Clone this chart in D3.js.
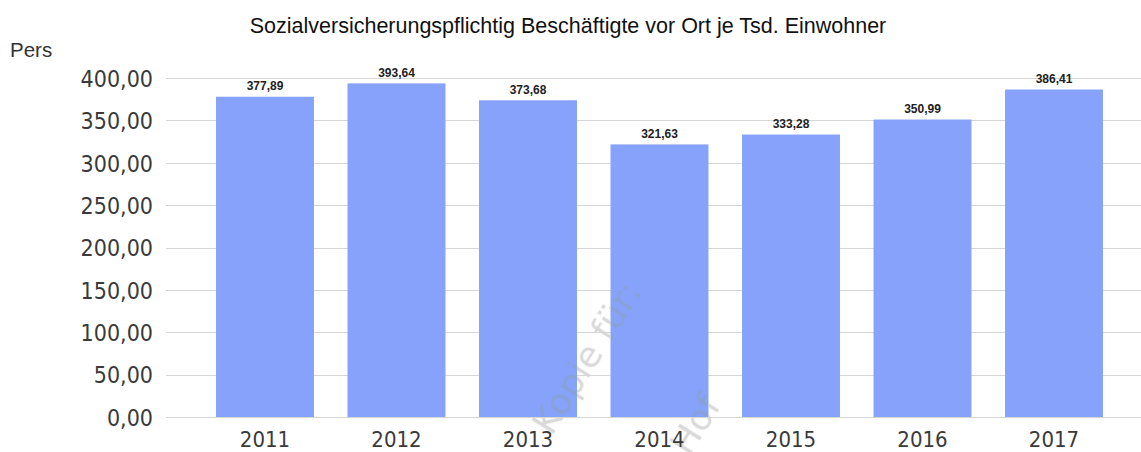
<!DOCTYPE html>
<html>
<head>
<meta charset="utf-8">
<script src="https://cdn.jsdelivr.net/npm/d3@7"></script>
<style>
  html, body { margin: 0; padding: 0; background: #fff; }
  svg { display: block; }
</style>
</head>
<body>
<svg id="chart" width="1141" height="452"></svg>
<script>
// Data
const years = ["2011", "2012", "2013", "2014", "2015", "2016", "2017"];
const values = [377.89, 393.64, 373.68, 321.63, 333.28, 350.99, 386.41];
const yTicks = [0, 50, 100, 150, 200, 250, 300, 350, 400];
const titleText = "Sozialversicherungspflichtig Beschäftigte vor Ort je Tsd. Einwohner";
const unitText = "Pers";
const watermarkLines = ["Kopie für:", "Hof"];

const W = 1141, H = 452;
const svg = d3.select("#chart");

const fmt = v => d3.format(".2f")(v).replace(".", ",");

const x = d3.scaleBand()
  .domain(years)
  .range([199.25, 1119.75])
  .paddingInner(0.255)
  .paddingOuter(0.1275);

const y = d3.scaleLinear()
  .domain([0, 400])
  .range([417, 78]);

// Gridlines
svg.append("g")
  .selectAll("line")
  .data(yTicks)
  .join("line")
  .attr("x1", 166)
  .attr("x2", W)
  .attr("y1", d => Math.round(y(d)) + 0.5)
  .attr("y2", d => Math.round(y(d)) + 0.5)
  .attr("stroke", "#d6d6d6")
  .attr("stroke-width", 1);

// Y axis labels
const yAxis = d3.axisLeft(y).tickValues(yTicks).tickSize(0).tickPadding(0).tickFormat(fmt);
svg.append("g")
  .attr("transform", "translate(153,0)")
  .call(yAxis)
  .call(g => g.select(".domain").remove())
  .call(g => g.selectAll("text")
    .attr("fill", "#3a3a3a")
    .attr("font-family", "'DejaVu Sans Condensed', 'DejaVu Sans', sans-serif")
    .attr("font-size", 23)
    .attr("dy", "0.36em"));

// Bars
svg.append("g")
  .selectAll("rect")
  .data(values)
  .join("rect")
  .attr("x", (d, i) => x(years[i]))
  .attr("width", x.bandwidth())
  .attr("y", d => y(d))
  .attr("height", d => y(0) - y(d))
  .attr("fill", "#87a2fa");

// Value labels
svg.append("g")
  .selectAll("text")
  .data(values)
  .join("text")
  .attr("x", (d, i) => x(years[i]) + x.bandwidth() / 2)
  .attr("y", d => y(d) - 6.5)
  .attr("text-anchor", "middle")
  .attr("font-family", "'Liberation Sans', Arial, sans-serif")
  .attr("font-size", 12)
  .attr("font-weight", "bold")
  .attr("fill", "#222")
  .text(fmt);

// X axis labels
const xAxis = d3.axisBottom(x).tickSize(0).tickPadding(0);
svg.append("g")
  .attr("transform", "translate(0,431)")
  .call(xAxis)
  .call(g => g.select(".domain").remove())
  .call(g => g.selectAll("text")
    .attr("fill", "#3a3a3a")
    .attr("font-family", "'DejaVu Sans Condensed', 'DejaVu Sans', sans-serif")
    .attr("font-size", 22)
    .attr("dy", "0.71em"));

// Title and unit
svg.append("text")
  .attr("x", 568)
  .attr("y", 33)
  .attr("text-anchor", "middle")
  .attr("font-family", "'Liberation Sans', Arial, sans-serif")
  .attr("font-size", 21.5)
  .attr("fill", "#111")
  .text(titleText);

svg.append("text")
  .attr("x", 10)
  .attr("y", 57)
  .attr("font-family", "'Liberation Sans', Arial, sans-serif")
  .attr("font-size", 20.5)
  .attr("fill", "#333")
  .text(unitText);

// Faint diagonal watermark laid over the plot (darken blend keeps it subtle on bars)
const wmAnchors = [[643, 291], [722, 405]];
svg.append("g")
  .attr("fill", "#d9d9d9")
  .style("mix-blend-mode", "darken")
  .attr("font-family", "'DejaVu Sans', sans-serif")
  .attr("font-size", 36)
  .attr("pointer-events", "none")
  .selectAll("text")
  .data(watermarkLines)
  .join("text")
  .attr("transform", (d, i) => `translate(${wmAnchors[i][0]},${wmAnchors[i][1]}) rotate(-58)`)
  .attr("text-anchor", "end")
  .text(d => d);
</script>
</body>
</html>
